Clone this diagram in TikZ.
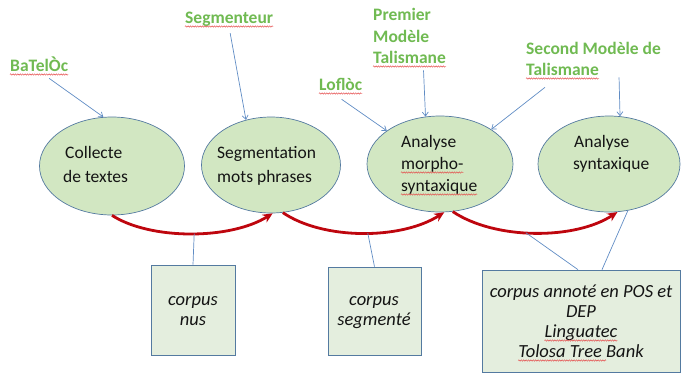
\documentclass[tikz,border=0pt]{standalone}
\usepackage{fontspec}
\setmainfont{Carlito}
\usetikzlibrary{arrows.meta,decorations.pathmorphing,calc,shapes.geometric}

\definecolor{stagefill}{RGB}{210,231,194}
\definecolor{stageline}{RGB}{84,122,160}
\definecolor{boxfill}{RGB}{228,238,222}
\definecolor{toolgreen}{RGB}{112,186,82}
\definecolor{flowred}{RGB}{190,6,14}
\definecolor{linkblue}{RGB}{96,140,196}
\definecolor{spellred}{RGB}{228,70,70}

\begin{document}
\begin{tikzpicture}[x=1pt,y=-1pt,
  stage/.style={ellipse, draw=stageline, line width=0.7pt, fill=stagefill, inner sep=0pt},
  corpusbox/.style={rectangle, draw=stageline, line width=0.7pt, fill=boxfill, inner sep=0pt},
  steptext/.style={anchor=base west, inner sep=0pt, font=\fontsize{17.5}{21}\selectfont, text=black!92},
  tool/.style={anchor=base west, inner sep=0pt, font=\fontsize{17.5}{21}\selectfont\bfseries, text=toolgreen},
  corpustext/.style={anchor=base, inner sep=0pt, font=\fontsize{18.5}{20}\selectfont\itshape, text=black!92},
  link/.style={draw=linkblue, line width=0.7pt, -{Straight Barb[length=4pt,width=6pt]}},
  tie/.style={draw=linkblue, line width=0.7pt},
  flow/.style={draw=flowred, line width=2.8pt, -{Stealth[length=10pt,width=9pt]}},
  spell/.style={draw=spellred, line width=0.45pt, decorate,
    decoration={snake, amplitude=0.7pt, segment length=2.4pt}}]

\useasboundingbox (0,0) rectangle (682,376);

% processing stages
\node[stage, minimum width=145pt, minimum height=98pt] (e1) at (112,166) {};
\node[stage, minimum width=139pt, minimum height=96pt] (e2) at (271,165) {};
\node[stage, minimum width=146pt, minimum height=96pt] (e3) at (440,164) {};
\node[stage, minimum width=142pt, minimum height=96pt] (e4) at (609,164) {};

\node[steptext] (t1a) at (65,158) {Collecte};
\node[steptext] (t1b) at (63,182) {de textes};
\node[steptext] (t2a) at (217,158) {Segmentation};
\node[steptext] (t2b) at (217,182) {mots phrases};
\node[steptext] (t3a) at (401,147) {Analyse};
\node[steptext] (t3b) at (401,169) {morpho-};
\node[steptext] (t3c) at (401,191) {syntaxique};
\node[steptext] (t4a) at (574,147) {Analyse};
\node[steptext] (t4b) at (573,169) {syntaxique};

% tools
\node[tool] (batel) at (10,71) {BaTelÒc};
\node[tool] (segm) at (185,23) {Segmenteur};
\node[tool] (lofloc) at (319,90) {Loflòc};
\node[tool] (prem) at (373,20) {Premier};
\node[tool] (modA) at (373,42) {Modèle};
\node[tool] (talA) at (373,63) {Talismane};
\node[tool] (second) at (526,54) {Second Modèle de};
\node[tool] (talB) at (526,75) {Talismane};

% corpora
\node[corpusbox, minimum width=84pt, minimum height=90pt] (b1) at (193,310) {};
\node[corpusbox, minimum width=93pt, minimum height=88pt] (b2) at (374.5,311) {};
\node[corpusbox, minimum width=198pt, minimum height=102pt] (b3) at (581,321) {};

\node[corpustext] (c1a) at (193,305) {corpus};
\node[corpustext] (c1b) at (193,325) {nus};
\node[corpustext] (c2a) at (374,305) {corpus};
\node[corpustext] (c2b) at (374,325) {segmenté};
\node[corpustext] (c3a) at (581,297) {corpus annoté en POS et};
\node[corpustext] (c3b) at (581,317) {DEP};
\node[corpustext] (c3c) at (581,337) {Linguatec};
\node[corpustext] (c3d) at (581,357) {Tolosa Tree Bank};

% spelling marks under words
\foreach \w in {batel,segm,lofloc,talA,talB,t3b,t3c,c3c}
  \draw[spell] ($(\w.base west)+(0,3.5)$) -- ($(\w.base east)+(0,3.5)$);
\draw[spell] ($(c3d.base west)+(0,3.5)$) -- ($(c3d.base west)!0.7!(c3d.base east)+(0,3.5)$);

% tool links
\draw[link] ($(batel.south)+(10,7)$) -- (e1.100);
\draw[link] ($(segm.south)+(1,7)$) -- (e2.119);
\draw[link] ($(lofloc.south)+(1,9)$) -- (e3.148);
\draw[link] ($(talA.south)+(14,7)$) -- (e3.107);
\draw[link] ($(talB.south west)+(19,12)$) -- (e3.34);
\draw[link] ($(talB.south east)+(20,2)$) -- (e4.77);

% processing flow
\draw[flow] (e1.-90) .. controls (150,240) and (230,240) .. (e2.-88)
  coordinate[pos=0.52] (r1);
\draw[flow] (e2.-76) .. controls (323,240) and (401,240) .. (e3.-85)
  coordinate[pos=0.53] (r2);
\draw[flow] (e3.-75) .. controls (495,240) and (575,240) .. (e4.-80)
  coordinate[pos=0.45] (r3);

% corpus ties
\draw[tie] (r1) -- (b1.north);
\draw[tie] (r2) -- (b2.north);
\draw[tie] (r3) -- ($(b3.north)+(-3,0)$);
\draw[tie] (e4.-68) -- ($(b3.north)+(21,0)$);

\end{tikzpicture}
\end{document}
